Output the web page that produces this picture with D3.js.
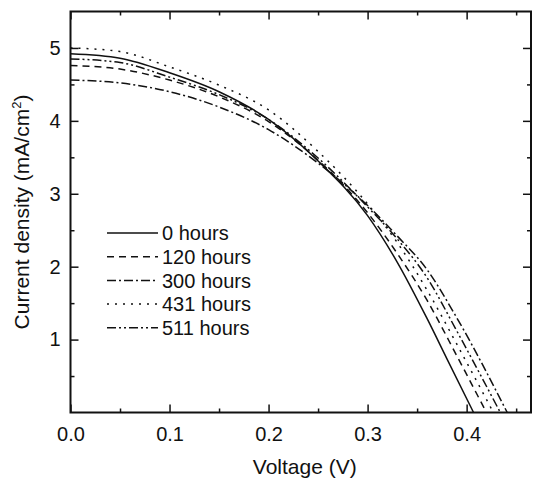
<html>
<head>
<script src="https://d3js.org/d3.v7.min.js"></script>
<style>
  body { margin: 0; background: #fff; }
  text { font-family: Arial, "Liberation Sans", sans-serif; fill: #111; }
  .axis path, .axis line { stroke: #111; }
</style>
</head>
<body>
<div id="chart"></div>
<script>
// series labels, in legend order
const seriesNames = ["0 hours", "120 hours", "300 hours", "431 hours", "511 hours"];

// voltage (V) and current density (mA/cm2)
const v0h   = [0, 0.05, 0.10, 0.15, 0.20, 0.25, 0.30, 0.33, 0.36, 0.38, 0.407];
const j0h   = [4.92, 4.86, 4.66, 4.40, 4.02, 3.45, 2.70, 2.06, 1.29, 0.74, 0];

const v120h = [0, 0.05, 0.10, 0.15, 0.20, 0.25, 0.30, 0.33, 0.36, 0.39, 0.42];
const j120h = [4.76, 4.71, 4.56, 4.33, 3.99, 3.46, 2.74, 2.18, 1.54, 0.78, 0];

const v300h = [0, 0.05, 0.10, 0.15, 0.20, 0.25, 0.30, 0.33, 0.36, 0.39, 0.441];
const j300h = [4.56, 4.52, 4.40, 4.19, 3.88, 3.42, 2.84, 2.42, 1.96, 1.30, 0];

const v431h = [0, 0.05, 0.10, 0.15, 0.20, 0.25, 0.30, 0.33, 0.36, 0.39, 0.427];
const j431h = [5.00, 4.95, 4.74, 4.49, 4.15, 3.58, 2.86, 2.33, 1.68, 0.94, 0];

const v511h = [0, 0.05, 0.10, 0.15, 0.20, 0.25, 0.30, 0.33, 0.36, 0.39, 0.434];
const j511h = [4.85, 4.80, 4.60, 4.36, 4.02, 3.49, 2.82, 2.38, 1.85, 1.12, 0];

const xTicks = [0, 0.1, 0.2, 0.3, 0.4];
const xMinor = [0.05, 0.15, 0.25, 0.35, 0.45];
const yTicks = [1, 2, 3, 4, 5];
const yMinor = [0.5, 1.5, 2.5, 3.5, 4.5];

const voltages = [v0h, v120h, v300h, v431h, v511h];
const currents = [j0h, j120h, j300h, j431h, j511h];
const dashes = ["none", "7,5", "9,3,2,3", "2,6", "9,3,2,3,2,3"];

const width = 533, height = 478;
const plotLeft = 70.5, plotRight = 531, plotTop = 11.5, plotBottom = 412.5;

let svg = d3.select("#chart").append("svg")
    .attr("width", width)
    .attr("height", height);

let xScale = d3.scaleLinear().domain([0, 0.465]).range([plotLeft, plotRight]);
let yScale = d3.scaleLinear().domain([0, 5.5]).range([plotBottom, plotTop]);

// curves
let lineGen = d3.line()
    .x(d => xScale(d[0]))
    .y(d => yScale(d[1]))
    .curve(d3.curveMonotoneX);

let curves = svg.append("g").attr("id", "curves");
seriesNames.forEach((name, i) => {
    const pts = voltages[i].map((v, k) => [v, currents[i][k]]);
    curves.append("path")
        .datum(pts)
        .attr("fill", "none")
        .attr("stroke", "#111")
        .attr("stroke-width", 1.5)
        .attr("stroke-dasharray", dashes[i])
        .attr("d", lineGen);
});

// axes: ticks point inward on all four sides
function styleAxis(g) {
    g.attr("class", "axis");
    g.select(".domain").remove();
    g.selectAll("line").attr("stroke-width", 1.5);
    g.selectAll("text").attr("font-size", 20);
}

svg.append("g")
    .attr("transform", "translate(0," + plotBottom + ")")
    .call(d3.axisBottom(xScale).tickValues(xTicks).tickSizeInner(-8).tickSizeOuter(0)
        .tickPadding(14).tickFormat(d3.format(".1f")))
    .call(styleAxis);
svg.append("g")
    .attr("transform", "translate(0," + plotBottom + ")")
    .call(d3.axisBottom(xScale).tickValues(xMinor).tickSize(-4).tickFormat(""))
    .call(styleAxis);
svg.append("g")
    .attr("transform", "translate(0," + plotTop + ")")
    .call(d3.axisTop(xScale).tickValues(xTicks).tickSize(-8).tickFormat(""))
    .call(styleAxis);
svg.append("g")
    .attr("transform", "translate(0," + plotTop + ")")
    .call(d3.axisTop(xScale).tickValues(xMinor).tickSize(-4).tickFormat(""))
    .call(styleAxis);

svg.append("g")
    .attr("transform", "translate(" + plotLeft + ",0)")
    .call(d3.axisLeft(yScale).tickValues(yTicks).tickSizeInner(-8).tickSizeOuter(0)
        .tickPadding(10).tickFormat(d3.format("d")))
    .call(styleAxis);
svg.append("g")
    .attr("transform", "translate(" + plotLeft + ",0)")
    .call(d3.axisLeft(yScale).tickValues(yMinor).tickSize(-4).tickFormat(""))
    .call(styleAxis);
svg.append("g")
    .attr("transform", "translate(" + plotRight + ",0)")
    .call(d3.axisRight(yScale).tickValues(yTicks).tickSize(-8).tickFormat(""))
    .call(styleAxis);
svg.append("g")
    .attr("transform", "translate(" + plotRight + ",0)")
    .call(d3.axisRight(yScale).tickValues(yMinor).tickSize(-4).tickFormat(""))
    .call(styleAxis);

// frame
svg.append("rect")
    .attr("x", plotLeft).attr("y", plotTop)
    .attr("width", plotRight - plotLeft).attr("height", plotBottom - plotTop)
    .attr("fill", "none")
    .attr("stroke", "#111")
    .attr("stroke-width", 2);

// axis titles
svg.append("text")
    .attr("x", (plotLeft + plotRight) / 2 + 4)
    .attr("y", 474)
    .attr("text-anchor", "middle")
    .attr("font-size", 21)
    .text("Voltage (V)");

let yTitle = svg.append("text")
    .attr("transform", "translate(29," + ((plotTop + plotBottom) / 2) + ") rotate(-90)")
    .attr("text-anchor", "middle")
    .attr("font-size", 21);
yTitle.append("tspan").text("Current density (mA/cm");
yTitle.append("tspan").attr("dy", -8).attr("font-size", 13).text("2");
yTitle.append("tspan").attr("dy", 8).text(")");

// legend
let legend = svg.append("g").attr("id", "legend");
seriesNames.forEach((name, i) => {
    const y = 233 + i * 23.7;
    legend.append("line")
        .attr("x1", 107).attr("x2", 158)
        .attr("y1", y).attr("y2", y)
        .attr("stroke", "#111")
        .attr("stroke-width", 1.5)
        .attr("stroke-dasharray", dashes[i]);
    legend.append("text")
        .attr("x", 162)
        .attr("y", y)
        .attr("dy", "0.36em")
        .attr("font-size", 20)
        .text(name);
});
</script>
</body>
</html>
